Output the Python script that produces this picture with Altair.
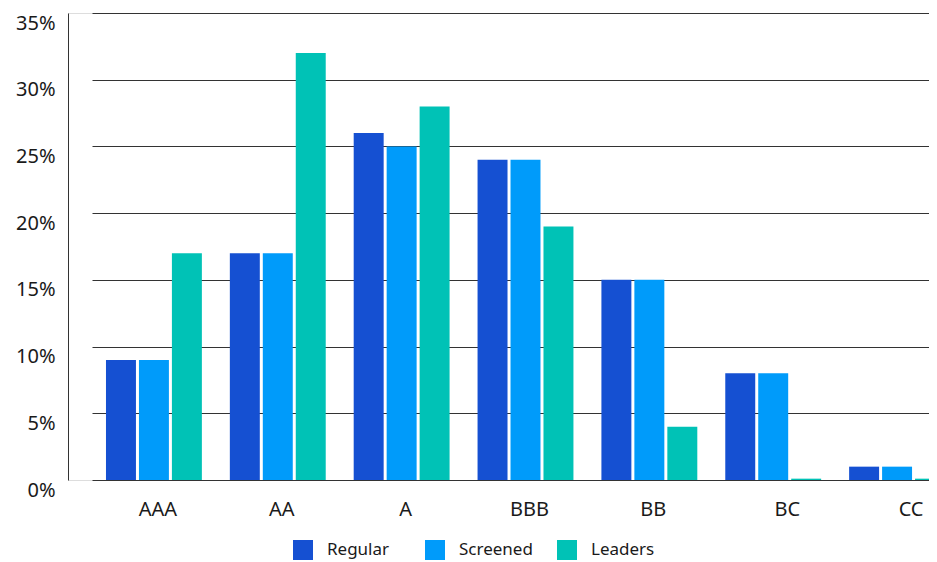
import altair as alt
import pandas as pd

ratings = ["AAA", "AA", "A", "BBB", "BB", "BC", "CC"]
series = ["Regular", "Screened", "Leaders"]
regular = [9, 17, 26, 24, 15, 8, 1]
screened = [9, 17, 25, 24, 15, 8, 1]
leaders = [17, 32, 28, 19, 4, 0.1, 0.1]
colors = ["#1550D2", "#009BFA", "#00C2B6"]
y_ticks = [0, 5, 10, 15, 20, 25, 30, 35]

rows = []
for name, vals in zip(series, [regular, screened, leaders]):
    for r, v in zip(ratings, vals):
        rows.append({"rating": r, "series": name, "value": v})
df = pd.DataFrame(rows)

FONT = "Noto Sans"
TXT = "#1a1a1a"
LINE = "#333333"

chart = (
    alt.Chart(df)
    .mark_bar(clip=True)
    .encode(
        x=alt.X(
            "rating:N",
            sort=ratings,
            title=None,
            scale=alt.Scale(range=[24, 891], paddingInner=28 / 124, paddingOuter=14 / 124),
            axis=alt.Axis(
                domain=False, ticks=False, tickSize=0, grid=False, labelAngle=0,
                labelFontSize=20, labelFont=FONT, labelColor=TXT, labelPadding=19,
                labelOffset={"expr": "datum.value == 'BC' || datum.value == 'CC' ? 14 : 4"},
            ),
        ),
        xOffset=alt.XOffset(
            "series:N", sort=series,
            scale=alt.Scale(paddingInner=3 / 33, paddingOuter=0),
        ),
        y=alt.Y(
            "value:Q",
            title=None,
            scale=alt.Scale(domain=[0, 35], nice=False),
            axis=alt.Axis(
                values=y_ticks, labelExpr="datum.value + '%'",
                domain=True, domainColor=LINE, domainWidth=1,
                grid=True, gridColor=LINE, gridWidth=1, gridOpacity=1,
                ticks=False, tickSize=0,
                labelBaseline="top", labelAlign="right", labelPadding=13,
                labelFontSize=20, labelFont=FONT, labelColor=TXT,
            ),
        ),
        color=alt.Color(
            "series:N",
            sort=series,
            scale=alt.Scale(domain=series, range=colors),
            legend=alt.Legend(
                title=None, orient="none", legendX=225, legendY=527,
                direction="horizontal", symbolType="square", symbolSize=400,
                symbolStrokeWidth=0, labelFontSize=17, labelFont=FONT,
                labelColor=TXT, labelOffset=14, columnPadding=24, padding=0,
                gridAlign="all",
            ),
        ),
    )
    .properties(
        width=861,
        height=467,
        autosize=alt.AutoSizeParams(type="none"),
        padding={"left": 60, "top": 5, "right": 0, "bottom": 84},
    )
    .configure_view(stroke=None)
    .configure(background="white")
)

chart.save("out.html", embed_options={"renderer": "svg", "actions": False})
